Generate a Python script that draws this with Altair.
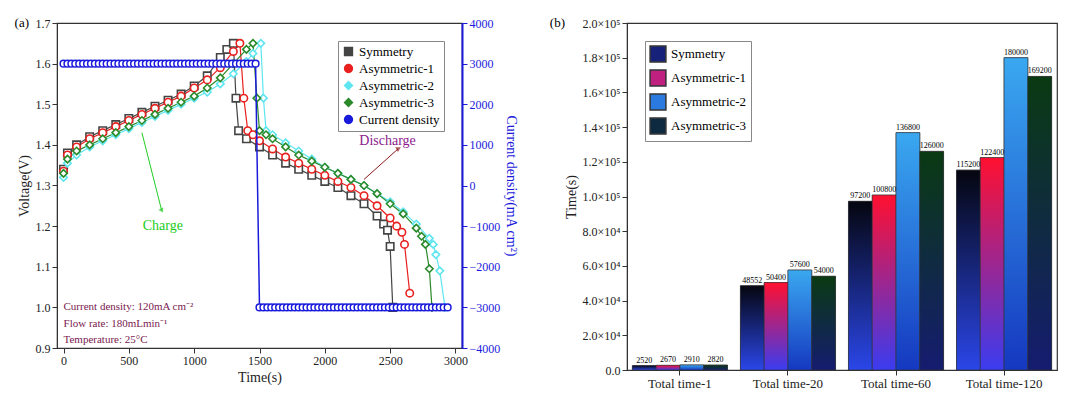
import altair as alt
import pandas as pd

FONT = "Liberation Serif"

# ---- (a) charge/discharge curves ----
sym_t = [0, 30, 100, 200, 300, 400, 500, 600, 700, 800, 900, 1000, 1100, 1200, 1250, 1300, 1320, 1340, 1400, 1500, 1600, 1700, 1800, 1900, 2000, 2100, 2200, 2300, 2400, 2450, 2480, 2500, 2520]
sym_v = [1.34, 1.38, 1.40, 1.42, 1.435, 1.45, 1.465, 1.48, 1.495, 1.51, 1.525, 1.545, 1.57, 1.615, 1.635, 1.65, 1.515, 1.435, 1.415, 1.395, 1.375, 1.355, 1.34, 1.325, 1.31, 1.295, 1.275, 1.255, 1.225, 1.205, 1.19, 1.15, 1.0]
a1_t = [0, 30, 100, 200, 300, 400, 500, 600, 700, 800, 900, 1000, 1100, 1200, 1300, 1350, 1380, 1410, 1450, 1500, 1600, 1700, 1800, 1900, 2000, 2100, 2200, 2300, 2400, 2500, 2550, 2590, 2610, 2650]
a1_v = [1.335, 1.375, 1.395, 1.415, 1.43, 1.445, 1.46, 1.475, 1.49, 1.505, 1.52, 1.54, 1.56, 1.59, 1.63, 1.65, 1.515, 1.435, 1.425, 1.41, 1.39, 1.37, 1.355, 1.34, 1.325, 1.31, 1.295, 1.275, 1.25, 1.22, 1.2, 1.185, 1.155, 1.035]
a2_t = [0, 30, 100, 200, 300, 400, 500, 600, 700, 800, 900, 1000, 1100, 1200, 1300, 1400, 1450, 1510, 1530, 1550, 1600, 1700, 1800, 1900, 2000, 2100, 2200, 2300, 2400, 2500, 2600, 2700, 2800, 2830, 2850, 2880, 2920]
a2_v = [1.32, 1.355, 1.375, 1.395, 1.41, 1.425, 1.44, 1.455, 1.47, 1.485, 1.5, 1.515, 1.53, 1.55, 1.575, 1.605, 1.625, 1.65, 1.515, 1.435, 1.425, 1.405, 1.385, 1.365, 1.345, 1.33, 1.315, 1.3, 1.28, 1.26, 1.235, 1.205, 1.17, 1.155, 1.13, 1.09, 1.0]
a3_t = [0, 30, 100, 200, 300, 400, 500, 600, 700, 800, 900, 1000, 1100, 1200, 1300, 1400, 1450, 1480, 1500, 1550, 1600, 1700, 1800, 1900, 2000, 2100, 2200, 2300, 2400, 2500, 2600, 2700, 2740, 2770, 2800, 2820]
a3_v = [1.33, 1.365, 1.385, 1.40, 1.415, 1.43, 1.445, 1.46, 1.475, 1.49, 1.505, 1.52, 1.54, 1.565, 1.6, 1.635, 1.65, 1.515, 1.435, 1.425, 1.415, 1.395, 1.375, 1.36, 1.345, 1.33, 1.315, 1.3, 1.28, 1.255, 1.23, 1.195, 1.175, 1.155, 1.095, 1.0]
cd_t = list(range(0, 1500, 30)) + list(range(1500, 2950, 30))
cd_v = [3000] * len(range(0, 1500, 30)) + [-3000] * len(range(1500, 2950, 30))

series_a = ["Symmetry", "Asymmetric-1", "Asymmetric-2", "Asymmetric-3", "Current density"]
colors_a = ["#444444", "#e8201e", "#5ee6f0", "#2a8a2a", "#1a1adc"]
shapes_a = ["square", "circle", "diamond", "diamond", "circle"]

rows = []
for name, ts, vs in [("Symmetry", sym_t, sym_v), ("Asymmetric-1", a1_t, a1_v),
                     ("Asymmetric-2", a2_t, a2_v), ("Asymmetric-3", a3_t, a3_v)]:
    rows += [{"series": name, "t": t, "v": v} for t, v in zip(ts, vs)]
volt = pd.DataFrame(rows)
cur = pd.DataFrame({"series": "Current density", "t": cd_t, "c": cd_v})

color_a = alt.Color("series:N", scale=alt.Scale(domain=series_a, range=colors_a),
                    legend=alt.Legend(title=None, orient="top-right", fillColor="white",
                                      strokeColor="#888", padding=4, labelFontSize=13,
                                      labelFont=FONT, symbolStrokeWidth=1.6, symbolSize=60,
                                      symbolFillColor="white"))
shape_a = alt.Shape("series:N", scale=alt.Scale(domain=series_a, range=shapes_a), legend=None)
xa = alt.X("t:Q", title="Time(s)", scale=alt.Scale(domain=[-50, 3050], nice=False),
           axis=alt.Axis(values=[0, 500, 1000, 1500, 2000, 2500, 3000], grid=False, format="d"))

vbase = alt.Chart(volt).encode(
    x=xa,
    y=alt.Y("v:Q", title="Voltage(V)", scale=alt.Scale(domain=[0.9, 1.7]),
            axis=alt.Axis(format=".1f", grid=False, tickCount=8)),
    color=color_a, shape=shape_a, detail="series:N")
vlines = vbase.mark_line(strokeWidth=1.2) + vbase.mark_point(size=55, strokeWidth=1.6, filled=False,
                                                             fill="white", fillOpacity=1)

cbase = alt.Chart(cur).encode(
    x=xa,
    y=alt.Y("c:Q", title="Current density(mA cm²)", scale=alt.Scale(domain=[-4000, 4000]),
            axis=alt.Axis(orient="right", grid=False, values=list(range(-4000, 4001, 1000)), format="d",
                          labelColor="#1a1adc", titleColor="#1a1adc", domainColor="#1a1adc",
                          tickColor="#1a1adc", domainWidth=2)),
    color=color_a, shape=shape_a)
clines = cbase.mark_line(strokeWidth=1.5) + cbase.mark_point(size=45, strokeWidth=1.5, filled=False,
                                                             fill="white", fillOpacity=1)

ann = pd.DataFrame({"t": [760, 2480], "v": [1.2, 1.41], "txt": ["Charge", "Discharge"],
                    "col": ["#22cc22", "#8b1a8b"]})
ann_txt = alt.Chart(ann).mark_text(font=FONT, fontSize=14).encode(
    x="t:Q", y="v:Q", text="txt:N", color=alt.Color("col:N", scale=None))
arrows = pd.DataFrame({"t": [600, 2300], "v": [1.43, 1.315], "t2": [750, 2560], "v2": [1.24, 1.39],
                       "col": ["#22cc22", "#8b1a1a"], "ang": [150, 60]})
arr_line = alt.Chart(arrows).mark_rule(strokeWidth=1).encode(
    x="t:Q", y="v:Q", x2="t2:Q", y2="v2:Q", color=alt.Color("col:N", scale=None))
arr_head = alt.Chart(arrows).mark_point(shape="triangle", filled=True, size=30).encode(
    x="t2:Q", y="v2:Q", color=alt.Color("col:N", scale=None), angle=alt.Angle("ang:Q", scale=None))
cond = pd.DataFrame({"t": [0, 0, 0], "v": [1.0, 0.96, 0.92],
                     "txt": ["Current density: 120mA cm⁻²", "Flow rate: 180mLmin⁻¹", "Temperature: 25°C"]})
cond_txt = alt.Chart(cond).mark_text(font=FONT, fontSize=11, align="left", color="#7a2050").encode(
    x="t:Q", y="v:Q", text="txt:N")
tag_a = alt.Chart(pd.DataFrame({"s": ["(a)"]})).mark_text(font=FONT, fontSize=13, align="right").encode(
    text="s:N", x=alt.value(-28), y=alt.value(0))

left = alt.layer(alt.layer(vlines, ann_txt, arr_line, arr_head, cond_txt, tag_a), clines).resolve_scale(
    y="independent").properties(width=405, height=325)

# ---- (b) total time bars ----
groups = ["Total time-1", "Total time-20", "Total time-60", "Total time-120"]
series_b = ["Symmetry", "Asymmetric-1", "Asymmetric-2", "Asymmetric-3"]
sym_b = [2520, 48552, 97200, 115200]
a1_b = [2670, 50400, 100800, 122400]
a2_b = [2910, 57600, 136800, 180000]
a3_b = [2820, 54000, 126000, 169200]
grads = {
    "Symmetry": ("#05060f", "#2a46e8"),
    "Asymmetric-1": ("#ff1030", "#3a3cf0"),
    "Asymmetric-2": ("#3aa8f0", "#1538c0"),
    "Asymmetric-3": ("#0a3a12", "#151c70"),
}
mid_cols = ["#16227a", "#c02080", "#2a7ae0", "#0e2a40"]

brows = []
for name, vals in zip(series_b, [sym_b, a1_b, a2_b, a3_b]):
    brows += [{"group": g, "series": name, "val": v} for g, v in zip(groups, vals)]
bars = pd.DataFrame(brows)

xb = alt.X("group:N", sort=groups, title=None, scale=alt.Scale(paddingInner=0.12, paddingOuter=0.05),
           axis=alt.Axis(labelAngle=0, labelFontSize=13, grid=False))
xo = alt.XOffset("series:N", sort=series_b, scale=alt.Scale(domain=series_b, paddingInner=0))
yb = alt.Y("val:Q", title="Time(s)", scale=alt.Scale(domain=[0, 200000]),
           axis=alt.Axis(values=list(range(0, 200001, 20000)), grid=False,
                         labelExpr="datum.value == 0 ? '0.0' : datum.value >= 100000 ? "
                                   "format(datum.value/100000, '.1f') + '×10⁵' : "
                                   "format(datum.value/10000, '.1f') + '×10⁴'"))
legend_layer = alt.Chart(bars).mark_bar(stroke="#333", strokeWidth=0.6).encode(
    x=xb, xOffset=xo, y=yb,
    color=alt.Color("series:N", scale=alt.Scale(domain=series_b, range=mid_cols),
                    legend=alt.Legend(title=None, orient="top-left", fillColor="white", strokeColor="#888",
                                      padding=4, labelFontSize=13, labelFont=FONT,
                                      symbolType="square", symbolSize=250, symbolStrokeColor="#333")))
grad_layers = []
for name in series_b:
    top, bot = grads[name]
    grad_layers.append(alt.Chart(bars).transform_filter(alt.datum.series == name).mark_bar(
        stroke="#333", strokeWidth=0.6,
        color=alt.Gradient(gradient="linear", x1=0, y1=0, x2=0, y2=1,
                           stops=[alt.GradientStop(color=top, offset=0),
                                  alt.GradientStop(color=bot, offset=1)])).encode(x=xb, xOffset=xo, y=yb))
labels = alt.Chart(bars).mark_text(font=FONT, fontSize=8, dy=-5).encode(
    x=xb, xOffset=xo, y=yb, text="val:Q")
tag_b = alt.Chart(pd.DataFrame({"s": ["(b)"]})).mark_text(font=FONT, fontSize=13, align="right").encode(
    text="s:N", x=alt.value(-62), y=alt.value(0))

right = alt.layer(legend_layer, *grad_layers, labels, tag_b).properties(width=430, height=347)

chart = alt.hconcat(left, right, spacing=30).resolve_scale(
    color="independent", shape="independent").resolve_legend(color="independent").properties(
    padding={"left": 5, "top": 8, "right": 5, "bottom": 0}).configure_axis(
    labelFont=FONT, titleFont=FONT, labelFontSize=12, titleFontSize=14, labelColor="#222",
    titleColor="#222", domainColor="#333", tickColor="#333", titleFontWeight="normal"
).configure_view(stroke="#333", strokeWidth=1.2).configure_legend(labelFont=FONT)

chart.save("out.html", embed_options={"renderer": "svg", "actions": False})
